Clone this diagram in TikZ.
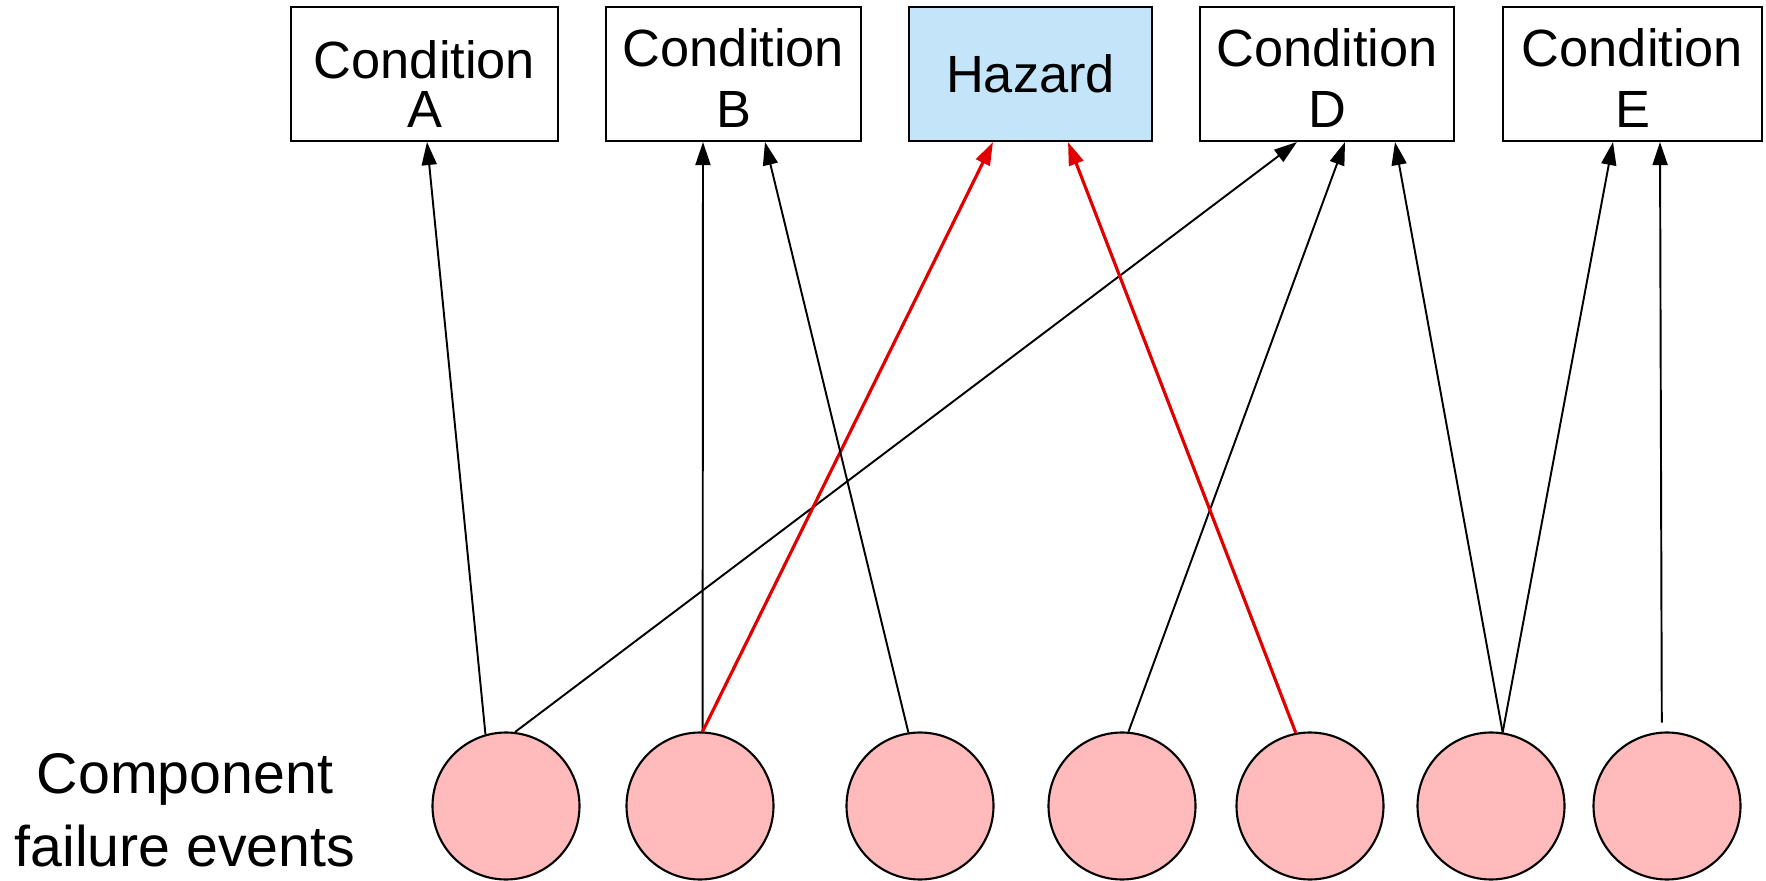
\documentclass[tikz,border=0pt]{standalone}
\usepackage{fontspec}
\setmainfont{Liberation Sans}
\usetikzlibrary{arrows.meta, positioning, calc}
\definecolor{failpink}{RGB}{255, 187, 187}
\definecolor{hazardblue}{RGB}{196, 228, 250}
\definecolor{hazardred}{RGB}{225, 0, 0}

\begin{document}
\begin{tikzpicture}[
        >={Triangle[length=0.23cm, width=0.15cm]},
        every node/.style={font=\fontsize{14.9}{17.3}\selectfont},
        cond/.style={draw, line width=0.6pt, minimum height=1.34cm, align=center, inner sep=0pt},
        failure/.style={circle, draw, line width=0.6pt, fill=failpink, minimum size=1.47cm, inner sep=0pt},
        link/.style={->, line width=0.55pt},
        hazlink/.style={->, line width=0.9pt, hazardred}]

        \useasboundingbox (0,0) rectangle (17.66,-8.81);

        % Conditions and the hazard
        \node[cond, minimum width=2.67cm, font=\fontsize{14.9}{14.2}\selectfont] (condA) at (4.245,-0.74) {\rule{0pt}{0.58cm}Condition\\A};
        \node[cond, minimum width=2.55cm] (condB) at (7.335,-0.74) {\rule{0pt}{0.46cm}Condition\\B};
        \node[cond, minimum width=2.43cm, fill=hazardblue] (hazard) at (10.305,-0.74) {Hazard};
        \node[cond, minimum width=2.54cm] (condD) at (13.27,-0.74) {\rule{0pt}{0.46cm}Condition\\D};
        \node[cond, minimum width=2.59cm] (condE) at (16.325,-0.74) {\rule{0pt}{0.46cm}Condition\\E};

        % Component failure events
        \foreach \i/\x in {1/5.06, 2/7.00, 3/9.20, 4/11.22, 5/13.10, 6/14.91, 7/16.67}
          \node[failure] (fail\i) at (\x,-8.06) {};
        \node[align=center, font=\fontsize{16.3}{20.8}\selectfont] (events) at (1.85,-8.10) {Component\\failure events};

        % Links
        \draw[link] (fail1.106) -- ([xshift=0.025cm]condA.south);
        \draw[link] (fail1.83) -- ([xshift=-0.30cm]condD.south);
        \draw[link] (fail2.88) -- ([xshift=-0.305cm]condB.south);
        \draw[hazlink] (fail2.88) -- ([xshift=-0.375cm]hazard.south);
        \draw[link] (fail3.99) -- ([xshift=0.315cm]condB.south);
        \draw[link] (fail4.85) -- ([xshift=0.18cm]condD.south);
        \draw[hazlink] (fail5.101) -- ([xshift=0.375cm]hazard.south);
        \draw[link] (fail6.81) -- ([xshift=0.68cm]condD.south);
        \draw[link] (fail6.81) -- ([xshift=-0.195cm]condE.south);
        \draw[link] ([yshift=0.09cm]fail7.94) -- ([xshift=0.275cm]condE.south);

\end{tikzpicture}
\end{document}
